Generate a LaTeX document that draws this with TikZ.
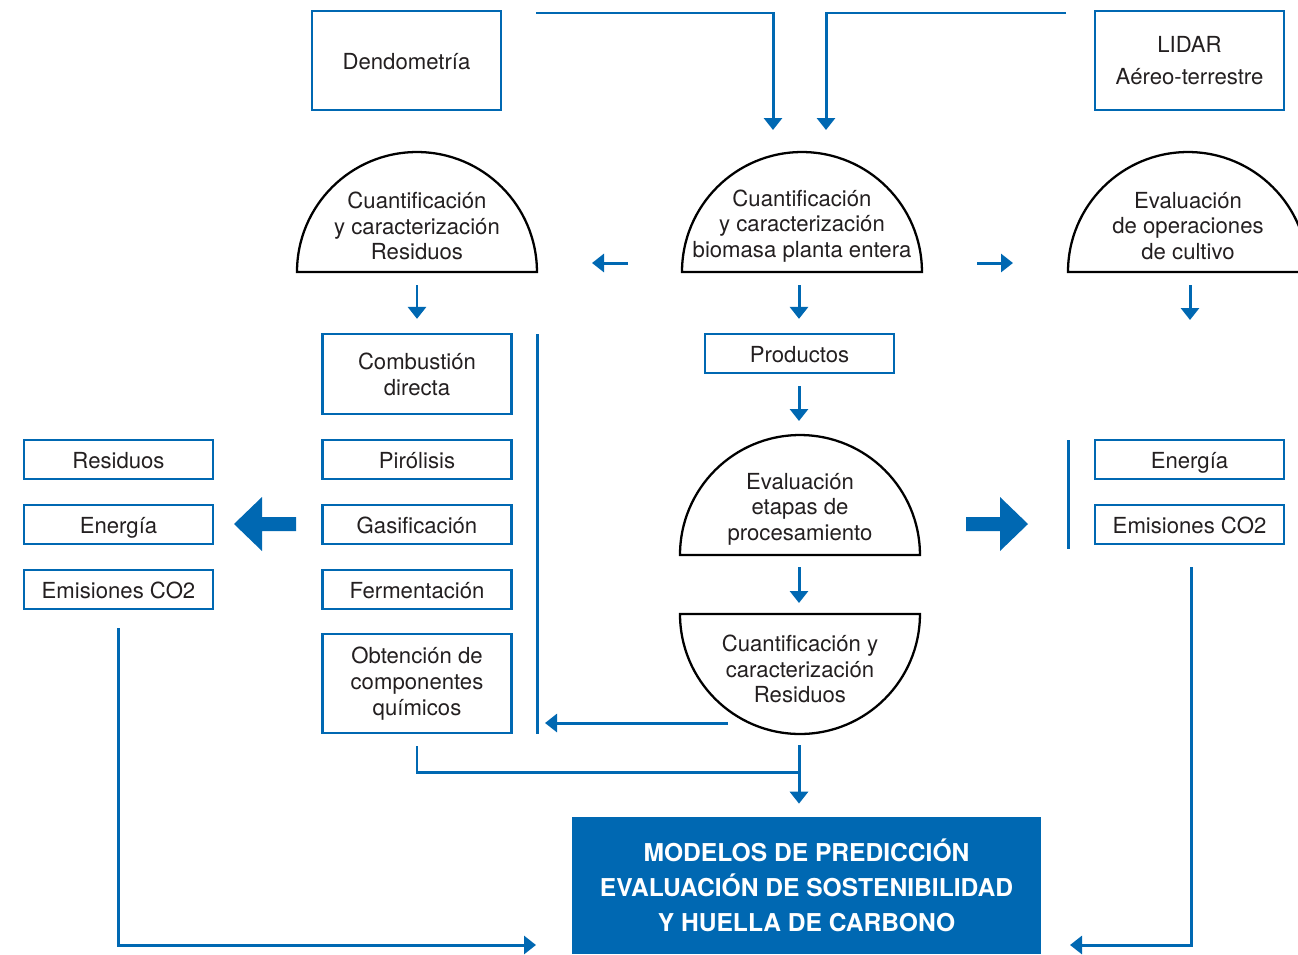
\documentclass[tikz,border=0pt]{standalone}
\usepackage{fontspec}
\setmainfont{TeX Gyre Heros}
\usetikzlibrary{arrows.meta}
\definecolor{azul}{RGB}{0,104,178}
\definecolor{texto}{RGB}{35,31,32}

\begin{document}
\begin{tikzpicture}[x=0.02cm,y=-0.02cm,
    caja/.style={draw=azul,line width=1.3pt,minimum width=3.78cm,minimum height=0.78cm,
        inner sep=0pt,align=center,text=texto,font=\fontsize{12.6}{14.8}\selectfont},
    simple/.style={caja,text height=2.05ex,text depth=0.05ex},
    media/.style={draw=black,line width=1.3pt,fill=white},
    rotulo/.style={align=center,text=texto,font=\fontsize{12.6}{14.6}\selectfont},
    flecha/.style={azul,line width=1.7pt,-{Triangle[length=0.24cm,width=0.36cm]}},
    linea/.style={azul,line width=1.7pt}]
    \clip (0,0) rectangle (1298,954);

    % Top boxes
    \node[simple,minimum height=1.98cm] (dendo) at (406.5,60.5) {Dendometría};
    \node[caja,minimum height=1.98cm] (lidar) at (1189.5,60.5) {LIDAR\\[3.6pt]Aéreo-terrestre};

    % Half circles
    \draw[media] (297,272) arc[start angle=180,end angle=0,radius=2.4cm] -- cycle;
    \draw[media] (682,272) arc[start angle=180,end angle=0,radius=2.4cm] -- cycle;
    \draw[media] (1068,272) arc[start angle=180,end angle=0,radius=2.4cm] -- cycle;
    \draw[media] (680,555) arc[start angle=180,end angle=0,radius=2.4cm] -- cycle;
    \draw[media] (680,614) arc[start angle=180,end angle=360,radius=2.4cm] -- cycle;
    \node[rotulo] (resid) at (417,226) {Cuantificación\\y caracterización\\Residuos};
    \node[rotulo] (biomasa) at (802,226) {Cuantificación\\y caracterización\\biomasa planta entera};
    \node[rotulo] (cultivo) at (1188,226) {Evaluación\\de operaciones\\de cultivo};
    \node[rotulo] (etapas) at (800,509) {Evaluación\\etapas de\\procesamiento};
    \node[rotulo] (resid2) at (800,669) {Cuantificación y\\caracterización\\Residuos};
    \coordinate (c1) at (417,272);
    \coordinate (c2) at (799,272);
    \coordinate (c3) at (1190,272);
    \coordinate (c4) at (799,435);
    \coordinate (c5) at (799,555);
    \coordinate (c6) at (799,614);
    \coordinate (c7) at (799,734);

    % Process boxes
    \node[caja,minimum height=1.6cm] (comb) at (417,374) {Combustión\\directa};
    \node[simple] (piro) at (417,459.5) {Pirólisis};
    \node[simple] (gasi) at (417,524.5) {Gasificación};
    \node[simple] (ferm) at (417,589.5) {Fermentación};
    \node[caja,minimum height=1.98cm] (obt) at (417,683.5) {Obtención de\\componentes\\químicos};
    \node[simple] (prod) at (799.5,353.5) {Productos};

    % Output boxes
    \node[simple] (resid3) at (118.5,459.5) {Residuos};
    \node[simple] (ener) at (118.5,524.5) {Energía};
    \node[simple] (emis) at (118.5,589.5) {Emisiones CO2};
    \node[simple] (ener2) at (1189.5,459.5) {Energía};
    \node[simple] (emis2) at (1189.5,524.5) {Emisiones CO2};

    % Result box
    \node[fill=azul,minimum width=9.38cm,minimum height=2.74cm,inner sep=0pt,align=center,
        text=white,font=\fontsize{14}{19.9}\selectfont\bfseries] (modelo) at (806.5,885.5)
        {MODELOS DE PREDICCIÓN\\EVALUACIÓN DE SOSTENIBILIDAD\\Y HUELLA DE CARBONO};

    % Free ends
    \coordinate (d1) at (536,13);
    \coordinate (d2) at (773,130);
    \coordinate (l1) at (1066,13);
    \coordinate (l2) at (826,130);
    \coordinate (i1) at (628,263);
    \coordinate (i2) at (592,263);
    \coordinate (r1) at (977,263);
    \coordinate (r2) at (1013,263);
    \coordinate (v1) at (537,334);
    \coordinate (v2) at (537,734);
    \coordinate (v3) at (1068,440);
    \coordinate (v4) at (1068,549);
    \coordinate (h1) at (728,723);
    \coordinate (h2) at (545,723);
    \coordinate (j1) at (799,772);
    \coordinate (izq) at (536,945);
    \coordinate (der) at (1070,945);

    % Connectors
    \draw[flecha] (d1) -| (d2);
    \draw[flecha] (l1) -| (l2);
    \draw[flecha] (i1) -- (i2);
    \draw[flecha] (r1) -- (r2);
    \draw[flecha,shorten <=0.26cm,shorten >=0.28cm] (c1) -- (comb.north);
    \draw[flecha,shorten <=0.26cm,shorten >=0.28cm] (c2) -- (prod.north -| c2);
    \draw[flecha,shorten <=0.26cm] (c3) -- ++(0,48);
    \draw[flecha,shorten <=0.24cm,shorten >=0.28cm] (prod.south -| c4) -- (c4);
    \draw[flecha,shorten <=0.24cm,shorten >=0.22cm] (c5) -- (c6);
    \draw[flecha] (h1) -- (h2);
    \draw[linea] (v1) -- (v2);
    \draw[linea] (v3) -- (v4);
    \draw[linea,shorten <=0.24cm] (obt.south) |- (j1);
    \draw[flecha,shorten <=0.22cm,shorten >=0.26cm] (c7) -- (modelo.north -| c7);
    \draw[flecha,shorten <=0.36cm] (emis.south) |- (izq);
    \draw[flecha,shorten <=0.44cm] (emis2.south -| 1191,0) |- (der);

    % Big arrows
    \fill[azul] (296,517) -- (262,517) -- (262,497) -- (234,524) -- (262,551)
        -- (262,531) -- (296,531) -- cycle;
    \fill[azul] (966,517) -- (1000,517) -- (1000,497) -- (1028,524) -- (1000,551)
        -- (1000,531) -- (966,531) -- cycle;
\end{tikzpicture}
\end{document}
